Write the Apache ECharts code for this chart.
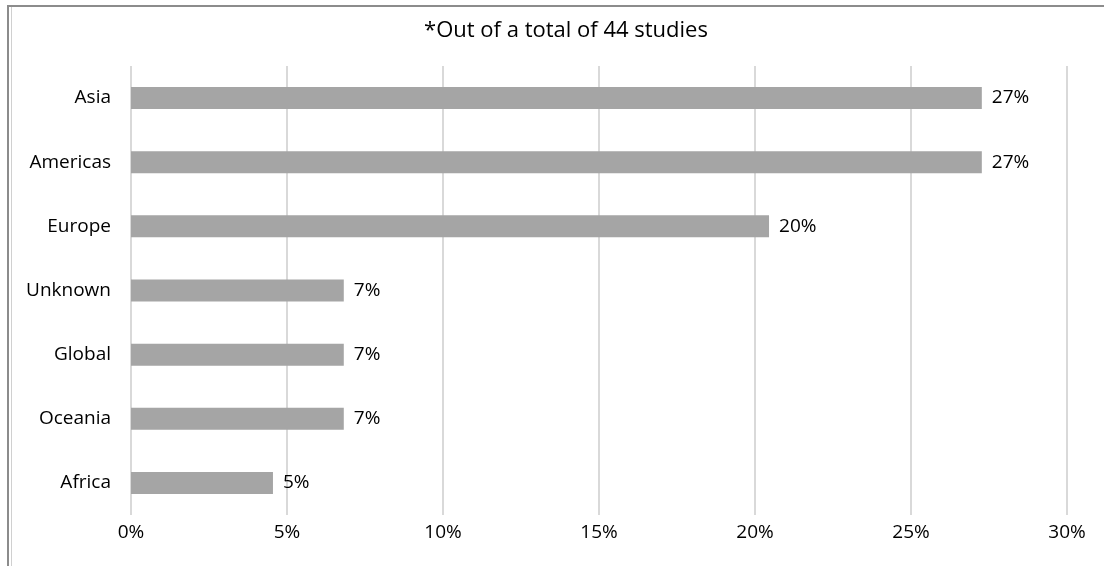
<!DOCTYPE html>
<html>
<head>
<meta charset="utf-8">
<script src="https://cdn.jsdelivr.net/npm/echarts@6/dist/echarts.min.js"></script>
<style>
  html, body { margin: 0; padding: 0; background: #fff; }
  #frame { position: absolute; left: 7px; top: 5px; width: 1110px; height: 580px;
           border-top: 2px solid #8c8c8c; border-left: 2px solid #8c8c8c; }
  #frame2 { position: absolute; left: 11px; top: 7px; width: 1px; height: 570px; background: #d0d0d0; }
  #chart { width: 1104px; height: 566px; position: absolute; left: 0; top: 0; }
</style>
</head>
<body>
<div id="frame"></div>
<div id="frame2"></div>
<div id="chart"></div>
<script>
// share of studies per region (44 studies in total)
var regions = ['Asia', 'Americas', 'Europe', 'Unknown', 'Global', 'Oceania', 'Africa'];
var shares = [27.27, 27.27, 20.45, 6.82, 6.82, 6.82, 4.55];
var xTicks = [0, 5, 10, 15, 20, 25, 30];

var myChart = echarts.init(document.getElementById('chart'));

var font = 'Open Sans, Noto Sans, sans-serif';

var option = {
    animation: false,
    title: {
        text: '*Out of a total of 44 studies',
        left: 561,
        top: 15,
        textAlign: 'center',
        textStyle: { fontFamily: font, fontSize: 22, fontWeight: 'normal', color: '#000' }
    },
    grid: { left: 131, right: 37, top: 66, bottom: 51, containLabel: false },
    xAxis: {
        type: 'value',
        min: xTicks[0],
        max: xTicks[xTicks.length - 1],
        interval: 5,
        axisLine: { show: false },
        axisTick: { show: false },
        splitLine: { show: true, lineStyle: { color: '#d9d9d9', width: 2 } },
        axisLabel: {
            formatter: '{value}%',
            margin: 8,
            fontFamily: font,
            fontSize: 19,
            color: '#000'
        }
    },
    yAxis: {
        type: 'category',
        inverse: true,
        data: regions,
        axisLine: { show: false },
        axisTick: { show: false },
        axisLabel: { margin: 20, fontFamily: font, fontSize: 19, color: '#000' }
    },
    series: [
        {
            type: 'bar',
            data: shares,
            barWidth: 22,
            itemStyle: { color: '#a5a5a5' },
            label: {
                show: true,
                position: 'right',
                distance: 10,
                fontFamily: font,
                fontSize: 19,
                color: '#000',
                formatter: function (p) { return Math.round(p.value) + '%'; }
            }
        }
    ]
};

myChart.setOption(option);

window.addEventListener('resize', function() {
    myChart.resize();
});
</script>
</body>
</html>
